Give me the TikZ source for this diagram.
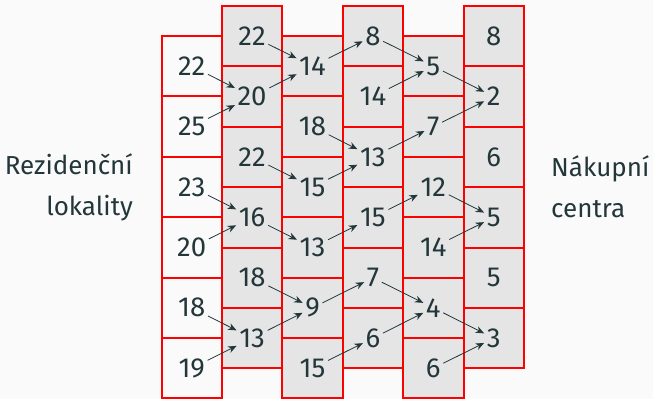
\documentclass[tikz,border=0pt]{standalone}
\usepackage{fontspec}
\IfFontExistsTF{Fira Sans Book}{\setmainfont{Fira Sans Book}}{\setmainfont{Fira Sans}}
\usetikzlibrary{arrows.meta}
\definecolor{mdark}{HTML}{23373B}
\definecolor{bgc}{HTML}{FAFAFA}
\definecolor{cellgray}{HTML}{E5E5E5}
\begin{document}
\begin{tikzpicture}[x=1pt,y=1pt,
  cellbox/.style={draw=red, line width=2pt},
  num/.style={font=\fontsize{27.5}{32}\selectfont, text=mdark, inner sep=2.5pt},
  lab/.style={font=\fontsize{26}{41}\selectfont, text=mdark, inner sep=0pt},
  arr/.style={draw=mdark, line width=0.8pt, -{Stealth[length=8.5pt,width=7pt]}}]
\fill[bgc] (0,0) rectangle (653,399);
\useasboundingbox (0,0) rectangle (653,399);
\foreach \i/\vals in {0/{22,25,23,20,18,19},1/{22,20,22,16,18,13},2/{14,18,15,13,9,15},3/{8,14,13,15,7,6},4/{5,7,12,14,4,6},5/{8,2,6,5,5,3}}{
  \ifnum\i>0 \def\cfill{cellgray}\else\def\cfill{bgc}\fi
  \foreach \v [count=\j from 0] in \vals {
    \pgfmathsetmacro\cx{191.7+60.4*\i}
    \pgfmathsetmacro\cy{(mod(\i,2)==0 ? 332.8 : 362.8)-60.4*\j}
    \draw[cellbox, fill=\cfill] (\cx-30.2,\cy-30.2) rectangle (\cx+30.2,\cy+30.2);
    \node[num] (n\i-\j) at (\cx,\cy) {\v};
  }
}
\foreach \a/\b in {0-0/1-1,0-1/1-1,0-2/1-3,0-3/1-3,0-4/1-5,0-5/1-5,
  1-0/2-0,1-1/2-0,1-2/2-2,1-3/2-3,1-4/2-4,1-5/2-4,
  2-0/3-0,2-1/3-2,2-2/3-2,2-3/3-3,2-4/3-4,2-5/3-5,
  3-0/4-0,3-1/4-0,3-2/4-1,3-3/4-2,3-4/4-4,3-5/4-4,
  4-0/5-1,4-1/5-1,4-2/5-3,4-3/5-3,4-4/5-5,4-5/5-5}{
  \draw[arr] (n\a) -- (n\b);
}
\node[lab, align=right, anchor=base east] (res) at (133,183) {Rezidenční\\lokality};
\node[lab, align=left, anchor=base west] (shop) at (551,181) {Nákupní\\centra};
\end{tikzpicture}
\end{document}
